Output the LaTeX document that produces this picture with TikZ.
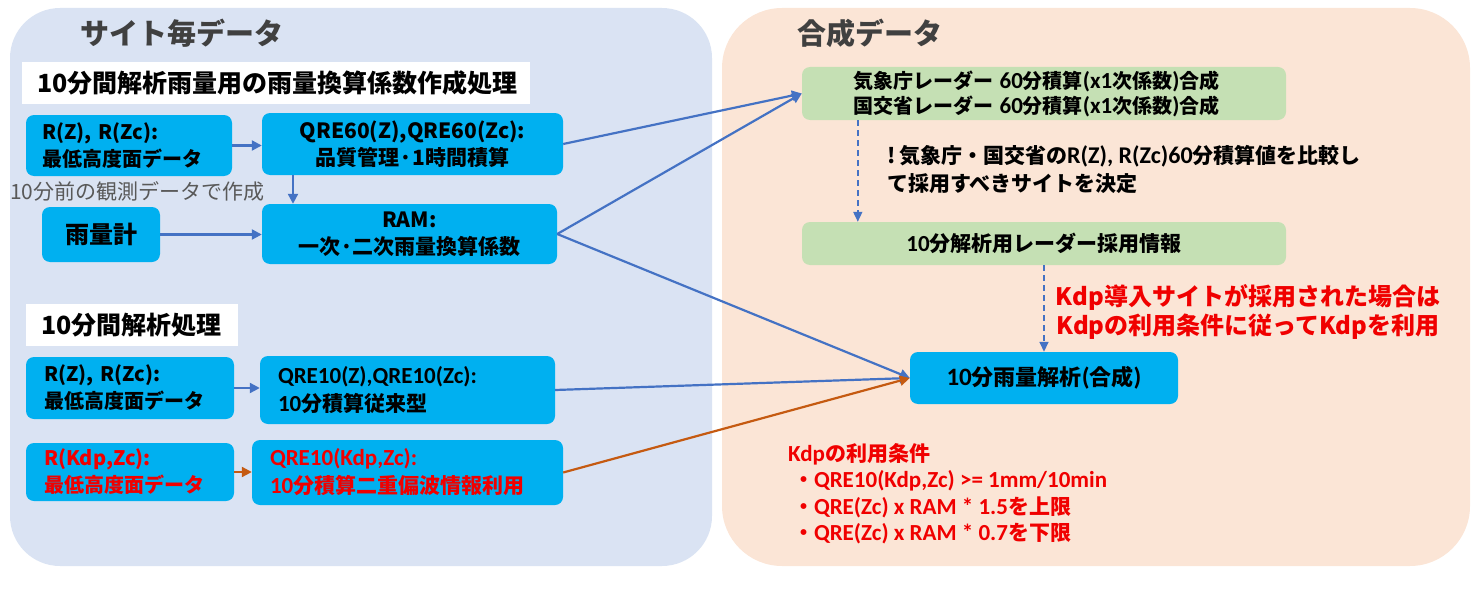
\documentclass[tikz,border=0pt]{standalone}
\usepackage{fontspec}
\setmainfont{Noto Sans CJK JP}
\newfontfamily\latf{Carlito}
\usetikzlibrary{arrows.meta}
\definecolor{panelL}{HTML}{DAE3F3}
\definecolor{panelR}{HTML}{FBE5D6}
\definecolor{cyanbox}{HTML}{00B0F0}
\definecolor{greenbox}{HTML}{C5E0B4}
\definecolor{arrblue}{HTML}{4472C4}
\definecolor{arrorange}{HTML}{C55A11}
\definecolor{redtxt}{HTML}{F00000}
\definecolor{titlegray}{HTML}{404040}
\definecolor{notegray}{HTML}{595959}
\tikzset{
  titletxt/.style={text=titlegray, inner sep=0pt, font=\fontsize{29}{34}\selectfont\bfseries},
  wbox/.style={fill=white, inner xsep=15pt, inner ysep=0pt, align=left, font=\fontsize{25}{30}\selectfont\bfseries},
  cbox/.style={fill=cyanbox, rounded corners=8pt, inner ysep=0pt, font=\fontsize{20}{27}\selectfont\bfseries},
  gbox/.style={fill=greenbox, rounded corners=8pt, inner ysep=0pt, font=\fontsize{20}{25}\selectfont\bfseries},
  arr/.style={draw=arrblue, line width=2.2pt, -{Triangle[length=10pt,width=10pt]}},
  oarr/.style={draw=arrorange, line width=2.2pt, -{Triangle[length=10pt,width=10pt]}},
  darr/.style={draw=arrblue, line width=1.6pt, dash pattern=on 6pt off 4pt, -{Triangle[length=10pt,width=9pt]}},
  redt/.style={text=redtxt, inner sep=0pt, font=\bfseries},
}
\newcommand{\lt}[1]{{\latf\fontsize{23}{25}\selectfont #1}}
\begin{document}
\begin{tikzpicture}[x=1pt,y=-1pt]
\useasboundingbox (0,0) rectangle (1478,594);
% panels
\fill[panelL, rounded corners=50pt] (10,8) rectangle (712,566);
\fill[panelR, rounded corners=60pt] (722,8) rectangle (1470,566);
\node[titletxt, anchor=west] (t1) at (80,33) {サイト毎データ};
\node[titletxt, anchor=west] (t2) at (797,33) {合成データ};

% left upper section
\node[wbox, minimum width=508, minimum height=42, text width=478] (h1) at (276,83) {10分間解析雨量用の雨量換算係数作成処理};
\node[cbox, minimum width=206, minimum height=61, inner xsep=16pt, text width=174, align=left] (rz1) at (129,145.5) {R(Z), R(Zc):\\最低高度面データ};
\node[cbox, minimum width=301, minimum height=62, align=center, font=\fontsize{21}{27}\selectfont\bfseries] (qre60) at (412.5,144) {QRE60(Z),QRE60(Zc):\\品質管理·1時間積算};
\node[text=notegray, inner sep=0pt, anchor=west, font=\fontsize{21}{24}\selectfont] (note) at (10,191) {10分前の観測データで作成};
\node[cbox, minimum width=118, minimum height=55, align=center, font=\fontsize{24}{28}\selectfont\bfseries] (rain) at (101,234.5) {雨量計};
\node[cbox, minimum width=295, minimum height=60, align=center, font=\fontsize{21}{27}\selectfont\bfseries] (ram) at (409.5,234) {RAM:\\一次·二次雨量換算係数};

% left lower section
\node[wbox, minimum width=212, minimum height=42, text width=182] (h2) at (132,325) {10分間解析処理};
\node[cbox, minimum width=208, minimum height=62, inner xsep=18pt, text width=172, align=left] (rz2) at (130,388) {R(Z), R(Zc):\\最低高度面データ};
\node[cbox, minimum width=295, minimum height=68, inner xsep=18pt, text width=259, align=left, font=\fontsize{21}{28}\selectfont\bfseries] (qre10) at (407.5,390) {{\latf\fontsize{23}{28}\selectfont QRE10(Z),QRE10(Zc):}\\{\latf\fontsize{23}{28}\selectfont 10}分積算従来型};
\node[cbox, minimum width=208, minimum height=58, inner xsep=18pt, text width=172, align=left, text=redtxt] (kdp1) at (130,472) {R(Kdp,Zc):\\最低高度面データ};
\node[cbox, minimum width=311, minimum height=65, inner xsep=18pt, text width=275, align=left, text=redtxt, font=\fontsize{21}{28}\selectfont\bfseries] (kdp2) at (407.5,472.5) {{\latf\fontsize{23}{28}\selectfont QRE10(Kdp,Zc):}\\{\latf\fontsize{23}{28}\selectfont 10}分積算二重偏波情報利用};

% right section
\node[gbox, minimum width=484, minimum height=53, inner xsep=51pt, text width=382, align=left] (g1) at (1044,93.5) {気象庁レーダー \lt{60}分積算\lt{(x1}次係数\lt{)}合成\\国交省レーダー \lt{60}分積算\lt{(x1}次係数\lt{)}合成};
\node[inner sep=0pt, anchor=north west, align=left, font=\fontsize{21}{28}\selectfont\bfseries] (cmp) at (887,145) {!\,気象庁・国交省の{\latf\fontsize{24}{28}\selectfont R(Z), R(Zc)60}分積算値を比較し\\て採用すべきサイトを決定};
\node[gbox, minimum width=484, minimum height=43, align=center, font=\fontsize{21}{25}\selectfont\bfseries] (g2) at (1044,243.5) {\lt{10}分解析用レーダー採用情報};
\node[redt, align=center, font=\fontsize{24}{29}\selectfont\bfseries] (cond1) at (1248,311.5) {Kdp導入サイトが採用された場合は\\Kdpの利用条件に従ってKdpを利用};
\node[cbox, minimum width=268, minimum height=52, align=center, font=\fontsize{22}{26}\selectfont\bfseries] (res) at (1044,378) {{\latf\fontsize{25}{26}\selectfont 10}分雨量解析{\latf\fontsize{25}{26}\selectfont (}合成{\latf\fontsize{25}{26}\selectfont )}};
\node[redt, anchor=north west, align=left, font=\fontsize{21}{26.5}\selectfont\bfseries] (cond2) at (788,443) {{\latf\fontsize{23}{26.5}\selectfont Kdp}の利用条件\\
\ ・{\latf\fontsize{23}{26.5}\selectfont QRE10(Kdp,Zc) >= 1mm/10min}\\
\ ・{\latf\fontsize{23}{26.5}\selectfont QRE(Zc) x RAM * 1.5}を上限\\
\ ・{\latf\fontsize{23}{26.5}\selectfont QRE(Zc) x RAM * 0.7}を下限};

% connectors
\draw[arr] (rz1.east) -- (rz1.east -| qre60.west);
\draw[arr] ([xshift=-119.5pt]qre60.south) -- ([xshift=-116.5pt]ram.north);
\draw[arr] (rain.east) -- (rain.east -| ram.west);
\draw[arr] (rz2.east) -- (rz2.east -| qre10.west);
\draw[oarr] (kdp1.east) -- (kdp1.east -| kdp2.west);
\draw[arr] (qre60.east) -- (g1.west);
\draw[arr] (ram.east) -- (g1.west);
\draw[arr] (ram.east) -- (res.west);
\draw[arr] (qre10.east) -- (res.west);
\draw[oarr] (kdp2.east) -- (res.west);
\draw[darr] ([xshift=56pt]g1.south west) -- ([xshift=56pt]g2.north west);
\draw[darr] (g2.south) -- (res.north);
\end{tikzpicture}
\end{document}
